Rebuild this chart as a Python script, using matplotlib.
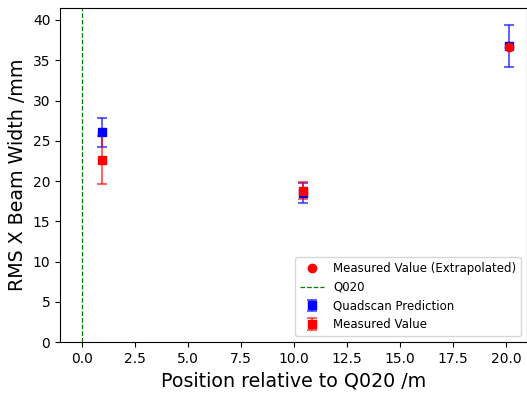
import numpy as np
import matplotlib
matplotlib.use('Agg')
from matplotlib import pyplot as plt

# positions relative to Q020 /m
pos_quad = [0.96, 10.43, 20.16]
quad_width = [26.05, 18.5, 36.8]
quad_err = [1.8, 1.2, 2.6]

pos_meas = [0.96, 10.43]
meas_width = [22.6, 18.8]
meas_err = [2.95, 1.03]

pos_extrap = [20.16]
extrap_width = [36.6]

fig = plt.figure(figsize=(5.27, 3.95), dpi=100)
ax = fig.add_axes([0.114, 0.134, 0.886, 0.846])

ax.plot(pos_extrap, extrap_width, 'ro', markersize=6, zorder=5,
        label='Measured Value (Extrapolated)')
ax.axvline(0, color='green', linestyle='--', linewidth=0.9, label='Q020')
ax.errorbar(pos_quad, quad_width, yerr=quad_err, fmt='bs', markersize=6,
            capsize=3.5, elinewidth=1.5, capthick=1.5, ecolor=(0, 0, 1, 0.6),
            label='Quadscan Prediction')
ax.errorbar(pos_meas, meas_width, yerr=meas_err, fmt='rs', markersize=6,
            capsize=3.5, elinewidth=1.5, capthick=1.5, ecolor=(1, 0, 0, 0.6),
            label='Measured Value')

ax.set_xlim(-1.04, 21.0)
ax.set_ylim(0, 41.5)
ax.set_xticks(np.arange(0, 20.1, 2.5))
ax.set_yticks(np.arange(0, 41, 5))
ax.tick_params(labelsize=10)
ax.set_xlabel('Position relative to Q020 /m', fontsize=13.7)
ax.set_ylabel('RMS X Beam Width /mm', fontsize=13.7)
ax.legend(loc='lower right', fontsize=8.5)

fig.savefig('out.png', dpi=100)
